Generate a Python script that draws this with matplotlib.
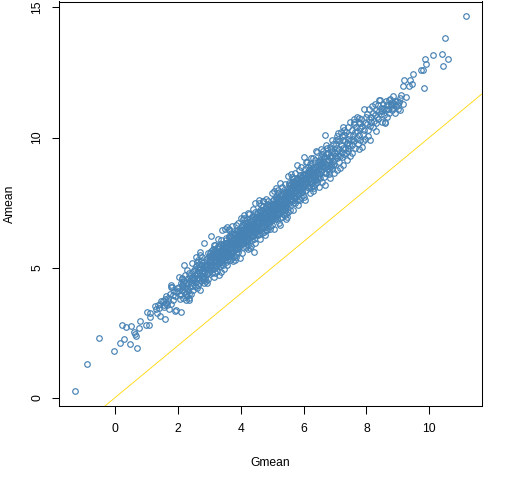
import matplotlib
matplotlib.use("Agg")
import matplotlib.pyplot as plt
import numpy as np

# (Gmean, Amean) pairs, grouped by Gmean band
band_low = [(-1.27,0.26),(-0.89,1.29),(-0.51,2.29),(-0.03,1.79),(0.16,2.10),(0.29,2.25),(0.48,2.06),(0.70,1.91),
    (0.24,2.79),(0.36,2.71),(0.51,2.75),(0.60,2.51),(0.66,2.39),(0.64,2.46),(0.76,2.67),(0.79,2.94),(0.98,2.79),(1.08,2.79),
    (1.02,3.29),(1.12,3.25),(1.11,3.10),(1.28,3.51),(1.35,3.25),(1.43,3.15),(1.40,3.45),(1.45,3.62),(1.38,3.55),(1.30,3.40),(1.48,3.70),
    (1.59,3.02),(1.52,3.72),(1.55,3.58),(1.60,3.80),(1.62,3.65),(1.64,3.92),(1.57,3.48),(1.68,3.70),(1.73,3.40),(1.77,4.25),(1.80,4.35),
    (1.82,4.26),(1.70,3.85),(1.75,4.00),(1.85,3.95),(1.88,4.10),(1.93,3.38),(1.90,3.33),(1.95,4.05),(1.98,4.20),(1.86,3.75),(1.92,3.90),
    (1.66,3.55),(1.78,3.62)]

band_2 = [(2.03,4.63),(2.09,3.31),(2.19,5.10),(2.46,5.17),(2.02,4.10),(2.05,4.25),(2.08,3.95),(2.10,4.40),(2.12,4.15),(2.14,4.55),
    (2.16,3.85),(2.18,4.30),(2.20,4.05),(2.22,4.70),(2.24,4.20),(2.26,4.45),(2.28,3.90),(2.30,4.35),(2.32,4.60),(2.34,4.10),(2.36,4.80),
    (2.38,4.25),(2.40,4.50),(2.42,3.98),(2.44,4.40),(2.46,4.65),(2.48,4.15),(2.11,4.00),(2.15,4.35),(2.21,4.48),(2.27,4.00),(2.33,4.42),
    (2.39,4.68),(2.45,4.30),(2.49,4.85),(2.06,3.78),(2.13,4.62),(2.25,3.75),(2.35,4.00),(2.43,4.58),(2.31,4.90),(2.17,4.45),(2.37,3.82),
    (2.47,4.52),(2.29,4.22),
    (2.60,5.20),(2.72,4.15),(2.72,5.62),(2.83,5.94),(2.51,4.55),(2.52,4.90),(2.54,4.30),(2.55,4.70),(2.57,5.05),(2.58,4.45),(2.60,4.80),
    (2.61,4.60),(2.63,5.00),(2.64,4.35),(2.66,4.85),(2.67,5.15),(2.69,4.55),(2.70,4.95),(2.71,4.70),(2.73,5.25),(2.74,4.50),(2.76,4.88),
    (2.77,5.10),(2.79,4.62),(2.80,5.00),(2.82,4.40),(2.83,4.80),(2.85,5.20),(2.86,4.95),(2.88,4.60),(2.89,5.35),(2.91,5.05),(2.92,4.75),
    (2.94,5.25),(2.95,4.55),(2.97,5.00),(2.98,5.45),(2.99,4.85),(2.53,4.62),(2.56,4.95),(2.62,4.72),(2.65,5.30),(2.68,4.40),(2.75,4.98),
    (2.78,5.40),(2.81,4.68),(2.84,5.08),(2.87,4.85),(2.90,4.50),(2.93,5.15),(2.96,4.78),(2.59,5.40),(2.70,5.50),(2.85,4.52),(2.95,5.55),
    (2.88,5.12),(2.76,4.60)]

band_3 = [(3.01,5.10),(3.02,5.45),(3.03,4.90),(3.04,5.30),(3.05,5.65),(3.06,5.05),(3.07,5.25),(3.08,4.80),(3.09,5.50),(3.10,5.15),
    (3.11,5.38),(3.12,4.95),(3.13,5.70),(3.14,5.87),(3.15,5.20),(3.16,5.45),(3.17,5.00),(3.18,5.60),(3.19,5.30),(3.20,5.87),(3.21,5.10),
    (3.22,5.55),(3.23,5.25),(3.24,4.88),(3.25,5.75),(3.26,5.40),(3.27,5.15),(3.28,5.62),(3.29,5.35),(3.30,4.70),(3.31,5.50),(3.32,5.80),
    (3.33,5.22),(3.34,5.45),(3.35,5.05),(3.36,5.68),(3.37,5.38),(3.38,6.05),(3.39,5.55),(3.40,5.20),(3.41,6.45),(3.42,5.72),(3.43,5.42),
    (3.44,5.10),(3.45,5.90),(3.46,5.60),(3.47,5.30),(3.48,5.78),(3.49,5.48),(3.50,6.48),(3.015,5.28),(3.035,5.58),(3.055,4.98),
    (3.075,5.40),(3.095,5.20),(3.115,5.62),(3.135,5.05),(3.155,5.52),(3.175,5.28),(3.195,5.72),(3.215,5.40),(3.235,5.08),(3.255,5.58),
    (3.275,5.32),(3.295,5.85),(3.315,5.18),(3.335,5.62),(3.355,5.42),(3.375,5.90),(3.395,5.30),(3.415,5.65),(3.435,5.85),(3.455,5.35),
    (3.475,5.55),(3.495,5.95),(3.06,6.20),(3.28,6.10),(3.47,4.95),(3.18,4.78),
    (3.51,5.60),(3.52,5.95),(3.53,5.40),(3.54,5.80),(3.55,6.15),(3.56,5.55),(3.57,5.75),(3.58,5.30),(3.59,6.00),(3.60,5.65),(3.61,5.88),
    (3.62,5.45),(3.63,6.20),(3.64,5.70),(3.65,5.95),(3.66,5.50),(3.67,5.30),(3.68,6.10),(3.69,5.80),(3.70,6.35),(3.71,5.60),(3.72,6.05),
    (3.73,5.75),(3.74,5.38),(3.75,6.25),(3.76,5.90),(3.77,5.65),(3.78,6.12),(3.79,5.85),(3.80,5.45),(3.81,6.00),(3.82,6.30),(3.83,5.72),
    (3.84,5.95),(3.85,5.55),(3.86,6.18),(3.87,5.88),(3.88,6.45),(3.89,6.05),(3.90,5.70),(3.91,6.22),(3.92,5.92),(3.93,5.60),(3.94,6.40),
    (3.95,6.10),(3.96,5.80),(3.97,6.28),(3.98,5.98),(3.99,5.36),(4.00,6.15),(3.515,5.78),(3.535,6.08),(3.555,5.48),(3.575,5.90),
    (3.595,5.70),(3.615,6.12),(3.635,5.55),(3.655,6.02),(3.675,5.78),(3.695,6.22),(3.715,5.90),(3.735,5.58),(3.755,6.08),(3.775,5.82),
    (3.795,6.35),(3.815,5.68),(3.835,6.12),(3.855,5.92),(3.875,6.40),(3.895,5.80),(3.915,6.15),(3.935,6.35),(3.955,5.85),(3.975,6.05),
    (3.995,6.45),(3.58,6.55),(3.72,6.60),(3.86,5.40),(3.93,6.70),(3.64,6.45),(3.77,5.25),(3.52,5.20)]

band_4 = [(4.01,6.10),(4.02,6.45),(4.03,5.90),(4.04,6.30),(4.05,6.65),(4.06,6.05),(4.07,6.25),(4.08,5.80),(4.09,6.50),(4.10,7.02),
    (4.11,6.38),(4.12,5.95),(4.13,6.70),(4.14,6.15),(4.15,6.20),(4.16,6.45),(4.17,6.00),(4.18,6.60),(4.19,6.30),(4.20,6.85),(4.21,6.10),
    (4.22,6.55),(4.23,6.25),(4.24,5.88),(4.25,6.75),(4.26,6.40),(4.27,6.15),(4.28,6.62),(4.29,6.35),(4.30,5.75),(4.31,6.50),(4.32,6.80),
    (4.33,6.22),(4.34,6.45),(4.35,6.05),(4.36,6.68),(4.37,6.38),(4.38,7.00),(4.39,6.55),(4.40,6.20),(4.41,5.59),(4.42,6.72),(4.43,6.42),
    (4.44,6.10),(4.45,6.90),(4.46,6.60),(4.47,7.47),(4.48,6.78),(4.49,6.48),(4.50,6.30),(4.015,6.28),(4.035,6.58),(4.055,5.98),
    (4.075,6.40),(4.095,6.20),(4.115,6.62),(4.135,6.05),(4.155,6.52),(4.175,6.28),(4.195,6.72),(4.215,6.40),(4.235,6.08),(4.255,6.58),
    (4.275,6.32),(4.295,6.85),(4.315,6.18),(4.335,6.62),(4.355,6.42),(4.375,6.90),(4.395,6.30),(4.415,6.65),(4.435,6.85),(4.455,6.35),
    (4.475,6.55),(4.495,6.95),(4.06,6.88),(4.28,7.05),(4.47,5.95),(4.18,5.78),(4.33,5.85),(4.45,7.15),(4.12,6.92),
    (4.51,6.60),(4.52,6.95),(4.53,6.40),(4.54,6.80),(4.55,7.15),(4.56,6.55),(4.57,6.75),(4.58,6.30),(4.59,7.00),(4.60,7.60),(4.61,6.88),
    (4.62,6.45),(4.63,7.20),(4.64,6.70),(4.65,6.95),(4.66,6.50),(4.67,6.35),(4.68,7.10),(4.69,6.80),(4.70,7.35),(4.71,6.60),(4.72,7.05),
    (4.73,6.75),(4.74,6.38),(4.75,7.25),(4.76,6.90),(4.77,6.65),(4.78,7.12),(4.79,6.85),(4.80,6.45),(4.81,7.00),(4.82,7.30),(4.83,6.72),
    (4.84,6.45),(4.85,6.55),(4.86,7.18),(4.87,6.88),(4.88,7.45),(4.89,7.05),(4.90,6.70),(4.91,7.22),(4.92,6.92),(4.93,6.60),(4.94,7.40),
    (4.95,7.10),(4.96,6.80),(4.97,7.28),(4.98,6.98),(4.99,6.62),(5.00,7.15),(4.515,6.78),(4.535,7.08),(4.555,6.48),(4.575,6.90),
    (4.595,6.70),(4.615,7.12),(4.635,6.55),(4.655,7.02),(4.675,6.78),(4.695,7.22),(4.715,6.90),(4.735,6.58),(4.755,7.08),(4.775,6.82),
    (4.795,7.35),(4.815,6.68),(4.835,7.12),(4.855,6.92),(4.875,7.40),(4.895,6.80),(4.915,7.15),(4.935,7.35),(4.955,6.85),(4.975,7.05),
    (4.995,7.45),(4.58,7.50),(4.72,7.55),(4.92,6.50),(4.66,7.40),(4.86,7.55),(4.54,6.25)]

band_5 = [(5.01,7.10),(5.02,7.45),(5.03,6.90),(5.04,7.30),(5.05,7.65),(5.06,7.05),(5.07,7.25),(5.08,6.85),(5.09,7.50),(5.10,7.15),
    (5.11,7.38),(5.12,6.95),(5.13,7.70),(5.14,7.20),(5.15,7.45),(5.16,7.00),(5.17,6.88),(5.18,7.60),(5.19,7.30),(5.20,7.85),(5.21,7.10),
    (5.22,7.55),(5.23,7.25),(5.24,6.90),(5.25,7.75),(5.26,6.64),(5.27,7.15),(5.28,7.62),(5.29,7.35),(5.30,6.95),(5.31,7.50),(5.32,7.80),
    (5.33,7.22),(5.34,7.45),(5.35,7.05),(5.36,7.68),(5.37,7.38),(5.38,8.00),(5.39,7.55),(5.40,7.20),(5.41,7.02),(5.42,7.72),(5.43,7.42),
    (5.44,7.10),(5.45,7.90),(5.46,7.60),(5.47,7.30),(5.48,7.78),(5.49,7.48),(5.50,7.15),(5.015,7.28),(5.035,7.58),(5.055,6.98),
    (5.075,7.40),(5.095,7.20),(5.115,7.62),(5.135,7.05),(5.155,7.52),(5.175,7.28),(5.195,7.72),(5.215,7.40),(5.235,7.08),(5.255,8.24),
    (5.275,7.32),(5.295,7.85),(5.315,7.18),(5.335,7.62),(5.355,7.42),(5.375,7.90),(5.395,7.30),(5.415,7.65),(5.435,7.85),(5.455,7.35),
    (5.475,7.55),(5.495,7.95),(5.00,7.86),(5.12,8.05),(5.44,6.85),(5.30,8.10),
    (5.51,7.70),(5.52,8.52),(5.53,7.50),(5.54,7.90),(5.55,8.25),(5.56,7.65),(5.57,7.85),(5.58,7.22),(5.59,8.10),(5.60,7.75),(5.61,7.98),
    (5.62,7.55),(5.63,8.30),(5.64,7.80),(5.65,8.05),(5.66,7.60),(5.67,7.48),(5.68,8.20),(5.69,7.90),(5.70,8.45),(5.71,7.70),(5.72,8.15),
    (5.73,7.85),(5.74,7.50),(5.75,8.35),(5.76,8.00),(5.77,7.75),(5.78,8.22),(5.79,8.94),(5.80,7.58),(5.81,8.10),(5.82,8.40),(5.83,7.82),
    (5.84,8.05),(5.85,7.65),(5.86,8.28),(5.87,7.98),(5.88,8.55),(5.89,8.15),(5.90,7.60),(5.91,8.32),(5.92,8.02),(5.93,7.72),(5.94,8.50),
    (5.95,8.20),(5.96,7.90),(5.97,8.38),(5.98,8.08),(5.99,7.78),(5.515,7.88),(5.535,8.18),(5.555,7.58),(5.575,8.00),(5.595,7.80),
    (5.615,8.22),(5.635,7.65),(5.655,8.12),(5.675,7.88),(5.695,8.32),(5.715,8.00),(5.735,7.68),(5.755,8.18),(5.775,7.92),(5.795,8.45),
    (5.815,7.78),(5.835,8.22),(5.855,8.02),(5.875,8.50),(5.895,7.90),(5.915,8.25),(5.935,8.45),(5.955,7.95),(5.975,8.15),(5.995,8.55),
    (5.60,8.60),(5.85,8.75)]

band_6 = [(6.00,9.26),(6.01,8.25),(6.02,8.60),(6.03,7.73),(6.04,8.45),(6.05,8.80),(6.06,8.20),(6.07,8.40),(6.08,8.00),(6.09,8.65),
    (6.10,8.30),(6.11,8.52),(6.12,8.10),(6.13,8.85),(6.14,8.35),(6.15,8.60),(6.16,8.15),(6.17,8.05),(6.18,8.75),(6.19,8.45),(6.20,9.00),
    (6.21,7.86),(6.22,8.70),(6.23,8.40),(6.24,8.10),(6.25,8.90),(6.26,8.55),(6.27,8.30),(6.28,8.78),(6.29,8.50),(6.30,8.15),(6.31,8.65),
    (6.32,8.05),(6.33,8.38),(6.34,8.60),(6.35,8.20),(6.36,8.85),(6.37,8.55),(6.38,9.15),(6.39,8.72),(6.40,9.50),(6.41,8.35),(6.42,8.90),
    (6.43,9.46),(6.44,8.30),(6.45,9.05),(6.46,8.75),(6.47,8.45),(6.48,8.95),(6.49,8.65),(6.015,8.42),(6.055,8.55),(6.095,8.35),
    (6.135,8.62),(6.175,8.45),(6.215,8.32),(6.255,8.68),(6.295,8.88),(6.335,8.80),(6.375,8.48),(6.415,8.62),(6.455,8.52),(6.495,9.10),
    (6.11,9.05),(6.30,9.20),
    (6.50,8.80),(6.52,9.15),(6.54,8.60),(6.56,9.00),(6.58,9.35),(6.60,8.75),(6.62,8.95),(6.64,8.50),(6.66,9.20),(6.68,8.85),(6.69,10.10),
    (6.69,8.18),(6.70,9.08),(6.72,8.65),(6.74,9.40),(6.76,8.90),(6.78,9.15),(6.80,8.70),(6.82,8.60),(6.84,9.30),(6.86,9.00),(6.88,9.55),
    (6.90,8.80),(6.92,9.25),(6.94,8.95),(6.96,8.62),(6.98,9.45),(6.51,9.00),(6.53,8.45),(6.55,9.25),(6.57,8.70),(6.59,9.10),(6.61,9.50),
    (6.63,8.88),(6.65,9.30),(6.67,8.62),(6.71,9.35),(6.73,8.98),(6.75,9.60),(6.77,8.78),(6.79,9.40),(6.81,9.12),(6.83,8.85),(6.85,9.65),
    (6.87,9.20),(6.89,8.90),(6.91,9.50),(6.93,9.10),(6.95,9.75),(6.97,9.00),(6.99,9.30)]

band_7 = [(7.01,9.40),(7.03,9.75),(7.05,9.20),(7.07,9.60),(7.09,9.95),(7.11,10.16),(7.13,9.55),(7.15,9.30),(7.17,8.82),(7.19,9.70),
    (7.21,9.45),(7.23,10.05),(7.25,10.42),(7.27,9.60),(7.29,9.35),(7.31,9.85),(7.33,9.55),(7.35,10.20),(7.37,9.75),(7.38,9.14),(7.40,9.95),
    (7.42,9.50),(7.44,10.10),(7.46,9.70),(7.48,10.61),(7.02,9.90),(7.06,9.50),(7.10,9.30),(7.14,9.85),(7.18,10.20),(7.22,9.25),(7.26,9.90),
    (7.30,10.10),(7.34,9.40),(7.39,9.80),(7.43,9.60),(7.47,9.30),(7.12,9.05),
    (7.51,9.90),(7.53,10.30),(7.55,9.70),(7.57,10.10),(7.59,10.50),(7.61,9.85),(7.63,10.20),(7.65,9.60),(7.67,10.40),(7.69,10.00),
    (7.71,10.25),(7.73,9.75),(7.75,10.60),(7.77,10.10),(7.79,10.35),(7.81,9.90),(7.83,10.70),(7.85,9.65),(7.87,10.45),(7.89,10.15),
    (7.91,11.08),(7.93,10.30),(7.95,10.55),(7.97,9.95),(7.99,10.80),(7.60,10.70),(7.70,10.80),(7.80,10.55),(7.88,9.85),(7.56,9.95)]

band_high = [(8.01,10.50),(8.03,10.90),(8.05,10.30),(8.07,10.70),(8.09,11.10),(8.11,10.45),(8.12,9.90),(8.14,10.80),(8.16,10.60),
    (8.18,11.20),(8.20,10.40),(8.22,10.95),(8.24,10.65),(8.26,11.30),(8.28,10.85),(8.30,10.55),(8.32,11.05),(8.34,10.80),(8.36,11.25),
    (8.38,10.70),(8.40,11.00),(8.41,11.44),(8.43,11.43),(8.45,10.90),(8.47,11.15),(8.49,10.60),
    (8.51,11.00),(8.53,11.30),(8.55,10.85),(8.57,11.15),(8.59,10.58),(8.61,11.40),(8.63,11.05),(8.65,10.80),(8.67,11.25),(8.69,11.10),
    (8.71,11.45),(8.73,10.95),(8.75,11.47),(8.77,11.20),(8.78,11.27),(8.80,11.05),(8.82,11.35),(8.84,11.15),(8.86,11.58),(8.88,11.30),
    (8.90,10.95),(8.92,11.40),(8.95,11.20),(8.97,11.41),(8.99,11.10),
    (9.02,11.25),(9.04,11.35),(9.11,11.62),(9.06,11.50),(9.15,11.30),(9.25,11.55),(9.08,11.05),(9.17,11.97),(9.21,12.20),(9.37,11.97),
    (9.40,12.20),(9.46,12.04),(9.49,12.43),(9.75,12.58),(9.81,12.58),(9.84,11.89),(9.87,13.00),(9.90,12.81),(10.13,13.16),(10.41,13.19),
    (10.44,12.73),(10.51,13.81),(10.60,13.00),(11.17,14.65)]

# scattered points along the upper and lower edges of the cloud
band_edges = [(3.62,6.50),(3.84,6.62),(4.02,6.90),(4.24,7.10),(4.38,7.25),(4.70,7.55),(4.82,7.62),(5.05,7.95),(5.18,8.00),
    (5.40,8.20),(5.62,8.50),(5.72,8.62),(5.92,8.85),(6.08,9.05),(6.25,9.20),(6.55,9.55),(6.72,9.70),(6.92,9.90),(7.05,10.05),
    (7.28,10.30),(7.42,10.40),(7.62,10.60),(7.78,10.75),
    (2.35,3.75),(2.62,4.20),(2.92,4.40),(3.15,4.65),(3.38,4.85),(3.58,5.10),(3.82,5.30),(4.05,5.55),(4.22,5.70),(4.62,6.10),
    (4.78,6.25),(5.05,6.50),(5.22,6.70),(5.48,6.95),(5.65,7.20),(5.82,7.40),(6.05,7.60),(6.30,7.95),(6.48,8.10),(6.60,8.30),
    (6.85,8.45),(7.05,8.75),(7.25,8.95),(7.55,9.40),(7.75,9.55),(8.05,10.05),(8.30,10.25),(8.60,10.55)]

x_ticks = [0, 2, 4, 6, 8, 10]
y_ticks = [0, 5, 10, 15]
x_label = "Gmean"
y_label = "Amean"

pts = np.array(band_low + band_2 + band_3 + band_4 + band_5 + band_6 + band_7 + band_high + band_edges)
gmean = pts[:, 0]
amean = pts[:, 1]

plt.rcParams['font.family'] = ['Liberation Sans', 'DejaVu Sans']
fig = plt.figure(figsize=(5.12, 4.8), dpi=100)
ax = fig.add_axes([59.3/512, 74/480, (481.7-59.3)/512, (406-1.5)/480])

ax.plot(gmean, amean, linestyle='none', marker='o', ms=4.0, mfc='none',
        mec='#4682B4', mew=0.85)
ax.axline((0, 0), slope=1, color='#FFD700', lw=0.6)

def rlim(v):
    lo, hi = float(np.min(v)), float(np.max(v))
    r = hi - lo
    return lo - 0.04 * r, hi + 0.04 * r

ax.set_xlim(*rlim(gmean))
ax.set_ylim(*rlim(amean))
ax.set_xticks(x_ticks)
ax.set_yticks(y_ticks)
ax.set_xticklabels([str(t) for t in x_ticks])
ax.set_yticklabels([str(t) for t in y_ticks], rotation=90, va='center')
ax.tick_params(direction='out', length=5.4, width=0.75, labelsize=8.7, pad=7)
ax.tick_params(axis='y', pad=6)
for s in ax.spines.values():
    s.set_linewidth(0.75)
ax.set_xlabel(x_label, fontsize=8.7, labelpad=16)
ax.set_ylabel(y_label, fontsize=8.7, labelpad=11)

fig.savefig("out.png", dpi=100)
